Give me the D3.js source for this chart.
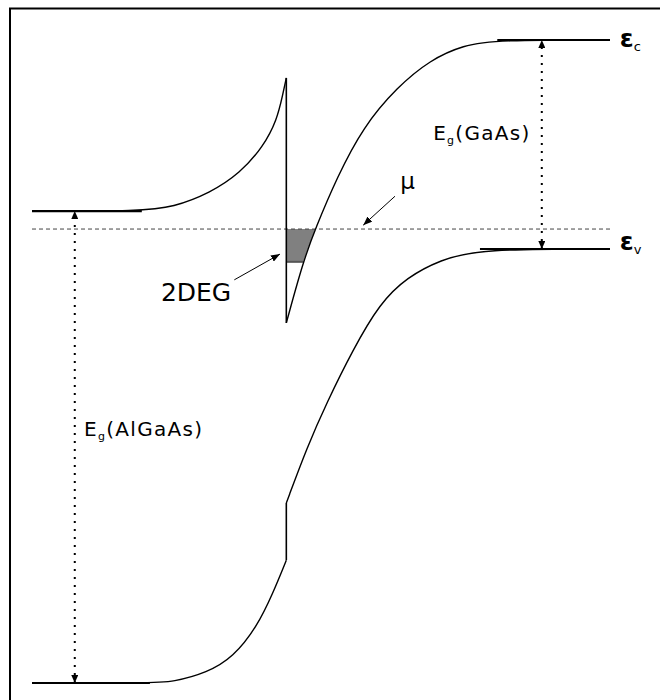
<!DOCTYPE html>
<html>
<head>
<meta charset="utf-8">
<script src="https://cdn.jsdelivr.net/npm/d3@7"></script>
<style>
  html, body { margin: 0; padding: 0; background: #fff; }
  svg { display: block; }
  text { font-family: "DejaVu Sans", "Liberation Sans", sans-serif; fill: #000; }
</style>
</head>
<body>
<svg id="chart" width="660" height="700"></svg>
<script>
// Band diagram of a modulation-doped AlGaAs / GaAs heterojunction.
// Position runs 0..100 left to right, energy 0..100 bottom to top (arbitrary units).

const interfaceX = 44;        // AlGaAs | GaAs interface
const fermiLevel = 70.6;      // chemical potential mu
const subbandLevel = 65.5;    // bottom of the occupied 2DEG subband

// Conduction band edge, AlGaAs side (bends up towards the barrier spike)
const cbAlGaAs = [[0, 73.4], [19, 73.4], [24.4, 74.0], [30.8, 76.2], [36, 79.3],
                  [40, 83.4], [42.4, 87.6], [43.4, 91.6], [44, 94.1]];
// Conduction band edge, GaAs side (triangular well, then flat)
const cbGaAs = [[44, 56.0], [46.9, 65.5], [49, 70.6], [52.8, 78.7], [57.3, 86.5],
                [63.2, 92.7], [68.9, 96.9], [74.6, 99.2], [80.5, 100], [100, 100]];
// Valence band edge, AlGaAs side
const vbAlGaAs = [[0, 0], [20.4, 0], [24.4, 0.16], [30.3, 1.6], [34.8, 4.0],
                  [38.9, 8.7], [41.7, 14.0], [44, 19.1]];
// Valence band edge, GaAs side
const vbGaAs = [[44, 28.0], [47.6, 36.7], [51, 43.6], [55.5, 51.8], [60.2, 59.1],
                [64.9, 63.1], [70.6, 65.8], [77.5, 67.5], [100, 67.5]];

// Flat-band stretches far from the junction: [x0, x1, energy]
const flatBands = [[0, 19, 73.4], [0, 20.4, 0], [80.5, 100, 100], [77.5, 100, 67.5]];

// Band-gap markers: [x, lower edge, upper edge]
const gapMarkers = [[88.2, 67.5, 100], [7.4, 0, 73.4]];

// Labels and pointer arrows
const gapLabels = [
  { x: 69.4, y: 84.4, main: "E", sub: "g", rest: "(GaAs)" },
  { x: 9.0,  y: 38.4, main: "E", sub: "g", rest: "(AlGaAs)" }
];
const bandLabels = [
  { x: 101.7, y: 98.9, sub: "c" },
  { x: 101.7, y: 67.3, sub: "v" }
];
const pointers = [
  { text: "\u03bc",  tx: 63.7, ty: 76.9, from: [62.8, 75.7], to: [57.3, 71.2], size: 23 },
  { text: "2DEG",    tx: 22.3, ty: 59.4, from: [35.0, 62.7], to: [42.9, 66.7], size: 25 }
];

const svg = d3.select("#chart");
const x = d3.scaleLinear().domain([0, 100]).range([32, 610]);
const y = d3.scaleLinear().domain([0, 100]).range([683, 40]);

// frame (runs off the right and bottom of the view)
svg.append("rect")
  .attr("x", 10).attr("y", 8.5).attr("width", 720).attr("height", 720)
  .attr("fill", "none").attr("stroke", "#000").attr("stroke-width", 2);

const defs = svg.append("defs");
function marker(id, len, wid) {
  defs.append("marker")
    .attr("id", id).attr("markerUnits", "userSpaceOnUse")
    .attr("viewBox", `0 ${-wid / 2} ${len} ${wid}`)
    .attr("refX", len).attr("refY", 0)
    .attr("markerWidth", len).attr("markerHeight", wid)
    .attr("orient", "auto-start-reverse")
    .append("path").attr("d", `M0,${-wid / 2}L${len},0L0,${wid / 2}Z`).attr("fill", "#000");
}
marker("gapHead", 8, 7);
marker("ptrHead", 9, 7);

// 2DEG occupied region: between the interface, the well edge, mu and the subband
const shade = [[interfaceX, fermiLevel], [49, fermiLevel], [46.9, subbandLevel], [interfaceX, subbandLevel]];
svg.append("path")
  .attr("d", "M" + shade.map(p => [x(p[0]), y(p[1])].join(",")).join("L") + "Z")
  .attr("fill", "#808080");
svg.append("line")
  .attr("x1", x(interfaceX)).attr("x2", x(46.9))
  .attr("y1", y(subbandLevel)).attr("y2", y(subbandLevel))
  .attr("stroke", "#555").attr("stroke-width", 2);

// chemical potential
svg.append("line")
  .attr("x1", x(0)).attr("x2", x(100))
  .attr("y1", y(fermiLevel)).attr("y2", y(fermiLevel))
  .attr("stroke", "#444").attr("stroke-width", 1)
  .attr("stroke-dasharray", "4,3");

// band edges
const band = d3.line().x(d => x(d[0])).y(d => y(d[1])).curve(d3.curveBasis);
[cbAlGaAs, cbGaAs, vbAlGaAs, vbGaAs].forEach(pts => {
  svg.append("path").attr("d", band(pts))
    .attr("fill", "none").attr("stroke", "#000").attr("stroke-width", 1.4);
});
flatBands.forEach(([a, b, e]) => {
  svg.append("line")
    .attr("x1", x(a)).attr("x2", x(b)).attr("y1", y(e)).attr("y2", y(e))
    .attr("stroke", "#000").attr("stroke-width", 2.2);
});

// abrupt steps at the interface
svg.append("line")
  .attr("x1", x(interfaceX)).attr("x2", x(interfaceX))
  .attr("y1", y(cbAlGaAs[cbAlGaAs.length - 1][1])).attr("y2", y(cbGaAs[0][1]))
  .attr("stroke", "#000").attr("stroke-width", 1.6);
svg.append("line")
  .attr("x1", x(interfaceX)).attr("x2", x(interfaceX))
  .attr("y1", y(vbAlGaAs[vbAlGaAs.length - 1][1])).attr("y2", y(vbGaAs[0][1]))
  .attr("stroke", "#000").attr("stroke-width", 1.6);

// band gaps
gapMarkers.forEach(([gx, e0, e1]) => {
  svg.append("line")
    .attr("x1", x(gx)).attr("x2", x(gx)).attr("y1", y(e0)).attr("y2", y(e1))
    .attr("stroke", "#000").attr("stroke-width", 2)
    .attr("stroke-dasharray", "2,6")
    .attr("marker-start", "url(#gapHead)").attr("marker-end", "url(#gapHead)");
});

gapLabels.forEach(l => {
  const t = svg.append("text").attr("x", x(l.x)).attr("y", y(l.y))
    .attr("font-size", 20).attr("letter-spacing", 1.3);
  t.append("tspan").text(l.main);
  t.append("tspan").attr("font-size", 11).attr("dy", 4).text(l.sub);
  t.append("tspan").attr("dy", -4).text(l.rest);
});

bandLabels.forEach(l => {
  const t = svg.append("text").attr("x", x(l.x)).attr("y", y(l.y));
  t.append("tspan").attr("font-size", 25).attr("font-weight", "bold").text("\u03b5");
  t.append("tspan").attr("font-size", 13).attr("dy", 4).text(l.sub);
});

pointers.forEach(p => {
  svg.append("text").attr("x", x(p.tx)).attr("y", y(p.ty))
    .attr("font-size", p.size).text(p.text);
  svg.append("line")
    .attr("x1", x(p.from[0])).attr("y1", y(p.from[1]))
    .attr("x2", x(p.to[0])).attr("y2", y(p.to[1]))
    .attr("stroke", "#000").attr("stroke-width", 1)
    .attr("marker-end", "url(#ptrHead)");
});
</script>
</body>
</html>
